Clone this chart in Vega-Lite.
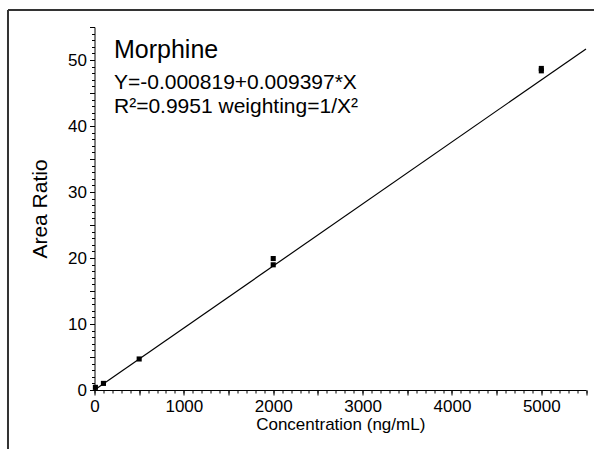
{
  "$schema": "https://vega.github.io/schema/vega-lite/v6.json",
  "width": 491.5,
  "height": 363,
  "autosize": {"type": "none"},
  "padding": {"left": 94.5, "top": 27, "right": 8, "bottom": 59},
  "background": "white",
  "config": {
    "view": {"stroke": null},
    "font": "Liberation Sans",
    "axis": {
      "domainColor": "#000000",
      "tickColor": "#000000",
      "labelColor": "#000000",
      "titleColor": "#000000",
      "labelFont": "Liberation Sans",
      "titleFont": "Liberation Sans",
      "labelFontSize": 17,
      "titleFontWeight": "normal",
      "grid": false,
      "domainWidth": 1,
      "tickWidth": 1
    }
  },
  "datasets": {
    "points": [
      {"Concentration": 10, "AreaRatio": 0.4},
      {"Concentration": 100, "AreaRatio": 1.0},
      {"Concentration": 500, "AreaRatio": 4.7},
      {"Concentration": 2000, "AreaRatio": 18.97},
      {"Concentration": 2000, "AreaRatio": 19.92},
      {"Concentration": 5000, "AreaRatio": 48.36},
      {"Concentration": 5000, "AreaRatio": 48.72}
    ],
    "fit": [
      {"Concentration": 0, "AreaRatio": -0.000819},
      {"Concentration": 5500, "AreaRatio": 51.6827}
    ]
  },
  "layer": [
    {
      "data": {"name": "fit"},
      "mark": {"type": "line", "color": "#000000", "strokeWidth": 1.2},
      "encoding": {
        "x": {
          "field": "Concentration", "type": "quantitative",
          "scale": {"domain": [0, 5500], "nice": false, "zero": false},
          "axis": {
            "orient": "bottom",
            "values": [0, 500, 1000, 1500, 2000, 2500, 3000, 3500, 4000, 4500, 5000, 5500],
            "labelExpr": "datum.value % 1000 == 0 ? datum.value : ''",
            "tickSize": 5,
            "labelPadding": 3,
            "labelFlush": false,
            "labelOverlap": false,
            "title": "Concentration (ng/mL)",
            "titleFontSize": 17,
            "titlePadding": 2
          }
        },
        "y": {
          "field": "AreaRatio", "type": "quantitative",
          "scale": {"domain": [0, 55], "nice": false, "zero": false},
          "axis": {
            "orient": "left",
            "values": [0, 5, 10, 15, 20, 25, 30, 35, 40, 45, 50, 55],
            "labelExpr": "datum.value % 10 == 0 ? datum.value : ''",
            "tickSize": 5,
            "labelPadding": 3,
            "labelFlush": false,
            "labelOverlap": false,
            "title": "Area Ratio",
            "titleFontSize": 21,
            "titlePadding": 17
          }
        }
      }
    },
    {
      "data": {"name": "points"},
      "mark": {"type": "square", "color": "#000000", "filled": true, "size": 26, "opacity": 1},
      "encoding": {
        "x": {
          "field": "Concentration", "type": "quantitative",
          "axis": {
            "orient": "bottom",
            "values": [0,100,200,300,400,500,600,700,800,900,1000,1100,1200,1300,1400,1500,1600,1700,1800,1900,2000,2100,2200,2300,2400,2500,2600,2700,2800,2900,3000,3100,3200,3300,3400,3500,3600,3700,3800,3900,4000,4100,4200,4300,4400,4500,4600,4700,4800,4900,5000,5100,5200,5300,5400,5500],
            "tickSize": 3,
            "labels": false,
            "domain": false,
            "title": null
          }
        },
        "y": {
          "field": "AreaRatio", "type": "quantitative",
          "axis": {
            "orient": "left",
            "values": [0,1,2,3,4,5,6,7,8,9,10,11,12,13,14,15,16,17,18,19,20,21,22,23,24,25,26,27,28,29,30,31,32,33,34,35,36,37,38,39,40,41,42,43,44,45,46,47,48,49,50,51,52,53,54,55],
            "tickSize": 3,
            "labels": false,
            "domain": false,
            "title": null
          }
        }
      }
    },
    {
      "data": {"values": [{}]},
      "mark": {"type": "text", "align": "left", "baseline": "alphabetic", "fontSize": 25, "color": "#000000", "font": "Liberation Sans"},
      "encoding": {
        "x": {"datum": 218, "type": "quantitative", "axis": null},
        "y": {"datum": 50.3, "type": "quantitative", "axis": null},
        "text": {"value": "Morphine"}
      }
    },
    {
      "data": {"values": [{}]},
      "mark": {"type": "text", "align": "left", "baseline": "alphabetic", "fontSize": 21, "color": "#000000", "font": "Liberation Sans"},
      "encoding": {
        "x": {"datum": 218, "type": "quantitative", "axis": null},
        "y": {"datum": 45.6, "type": "quantitative", "axis": null},
        "text": {"value": "Y=-0.000819+0.009397*X"}
      }
    },
    {
      "data": {"values": [{}]},
      "mark": {"type": "text", "align": "left", "baseline": "alphabetic", "fontSize": 21, "color": "#000000", "font": "Liberation Sans"},
      "encoding": {
        "x": {"datum": 218, "type": "quantitative", "axis": null},
        "y": {"datum": 42.0, "type": "quantitative", "axis": null},
        "text": {"value": "R²=0.9951 weighting=1/X²"}
      }
    },
    {
      "data": {"values": [{}]},
      "mark": {"type": "rule", "color": "#333333", "strokeWidth": 2},
      "encoding": {
        "x": {"datum": -968, "type": "quantitative", "axis": null},
        "x2": {"datum": 5600},
        "y": {"datum": 57.58, "type": "quantitative", "axis": null}
      }
    },
    {
      "data": {"values": [{}]},
      "mark": {"type": "rule", "color": "#333333", "strokeWidth": 2},
      "encoding": {
        "x": {"datum": -968, "type": "quantitative", "axis": null},
        "y": {"datum": -10, "type": "quantitative", "axis": null},
        "y2": {"datum": 57.58}
      }
    }
  ],
  "resolve": {"axis": {"x": "independent", "y": "independent"}}
}
